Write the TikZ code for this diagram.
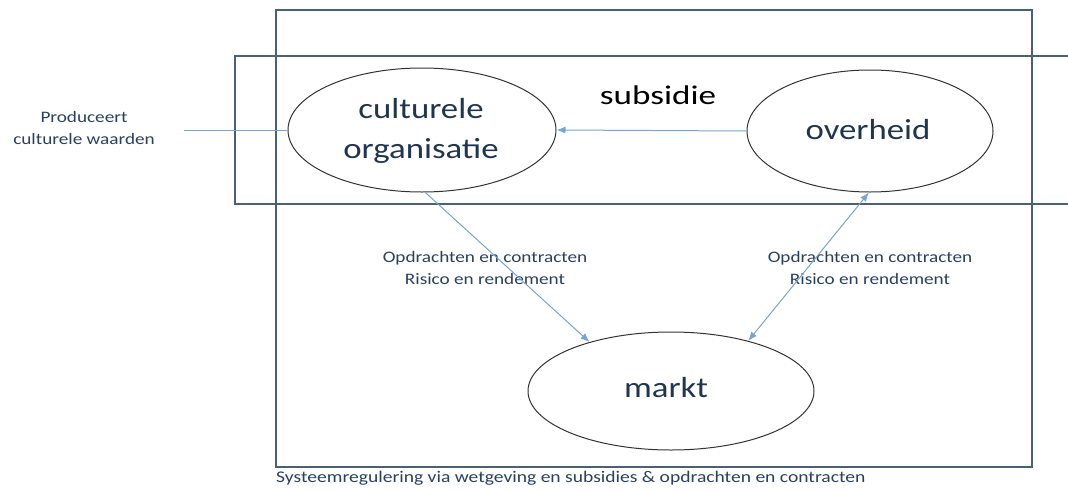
\documentclass[tikz,border=0pt]{standalone}
\usepackage{fontspec}
\setmainfont{Carlito}
\newfontfamily\widefont{Carlito}[FakeStretch=1.2]
\newfontfamily\widerfont{Carlito}[FakeStretch=1.3]
\usetikzlibrary{arrows.meta,shapes.geometric}
\definecolor{frame}{HTML}{4A6076}
\definecolor{link}{HTML}{78A5D0}
\definecolor{ink}{HTML}{1F3552}
\definecolor{noteink}{HTML}{2A4060}
\tikzset{
  box/.style={draw=frame, line width=1.2pt},
  actor/.style={draw=black!80, line width=1pt, ellipse, inner sep=0pt},
  actortext/.style={font=\widefont\fontsize{29}{40}\selectfont, text=ink, align=center},
  note/.style={font=\widefont\fontsize{16}{22}\selectfont, text=noteink, align=center},
  flow/.style={draw=link, line width=1pt, -{Latex[length=9pt,width=7pt]}},
}
\begin{document}
\begin{tikzpicture}[x=1pt,y=-1pt]
\useasboundingbox (0,0) rectangle (1068,490);
\fill[white] (0,0) rectangle (1068,490);
% outer regulation frame and the wide band across it
\draw[box] (276,10) rectangle (1032,467);
\draw[box] (1068,56) -- (235,56) -- (235,204) -- (1068,204);
% actors
\node[actor, minimum width=268pt, minimum height=124pt] (cult) at (422,130) {};
\node[actor, minimum width=246pt, minimum height=122pt] (over) at (870,131) {};
\node[actor, minimum width=286pt, minimum height=118pt] (markt) at (671,391) {};
\node[actortext] (cultT) at (421,131) {culturele\\organisatie};
\node[actortext] (overT) at (868,130) {overheid};
\node[actortext] (marktT) at (666,388) {markt};
% texts
\node[note] (prod) at (84,128) {Produceert\\culturele waarden};
\coordinate (prodE) at (184,130);
\node[font=\widerfont\fontsize{27}{32}\selectfont] (sub) at (658,95) {subsidie};
\node[note] (lab1) at (485,268) {Opdrachten en contracten\\Risico en rendement};
\node[note] (lab2) at (870,268) {Opdrachten en contracten\\Risico en rendement};
\node[note, font=\widefont\fontsize{16.3}{22}\selectfont, anchor=west, inner sep=0pt] (sys) at (276,478) {Systeemregulering via wetgeving en subsidies \& opdrachten en contracten};
% connectors
\draw[draw=link, line width=1pt] (prodE) -- (cult.west);
\draw[flow] (over.west) -- (cult.east);
\draw[flow] (cult.-87) -- (markt.149);
\draw[flow, {Latex[length=9pt,width=7pt]}-{Latex[length=9pt,width=7pt]}] (markt.33) -- (over.-91);
\end{tikzpicture}
\end{document}
